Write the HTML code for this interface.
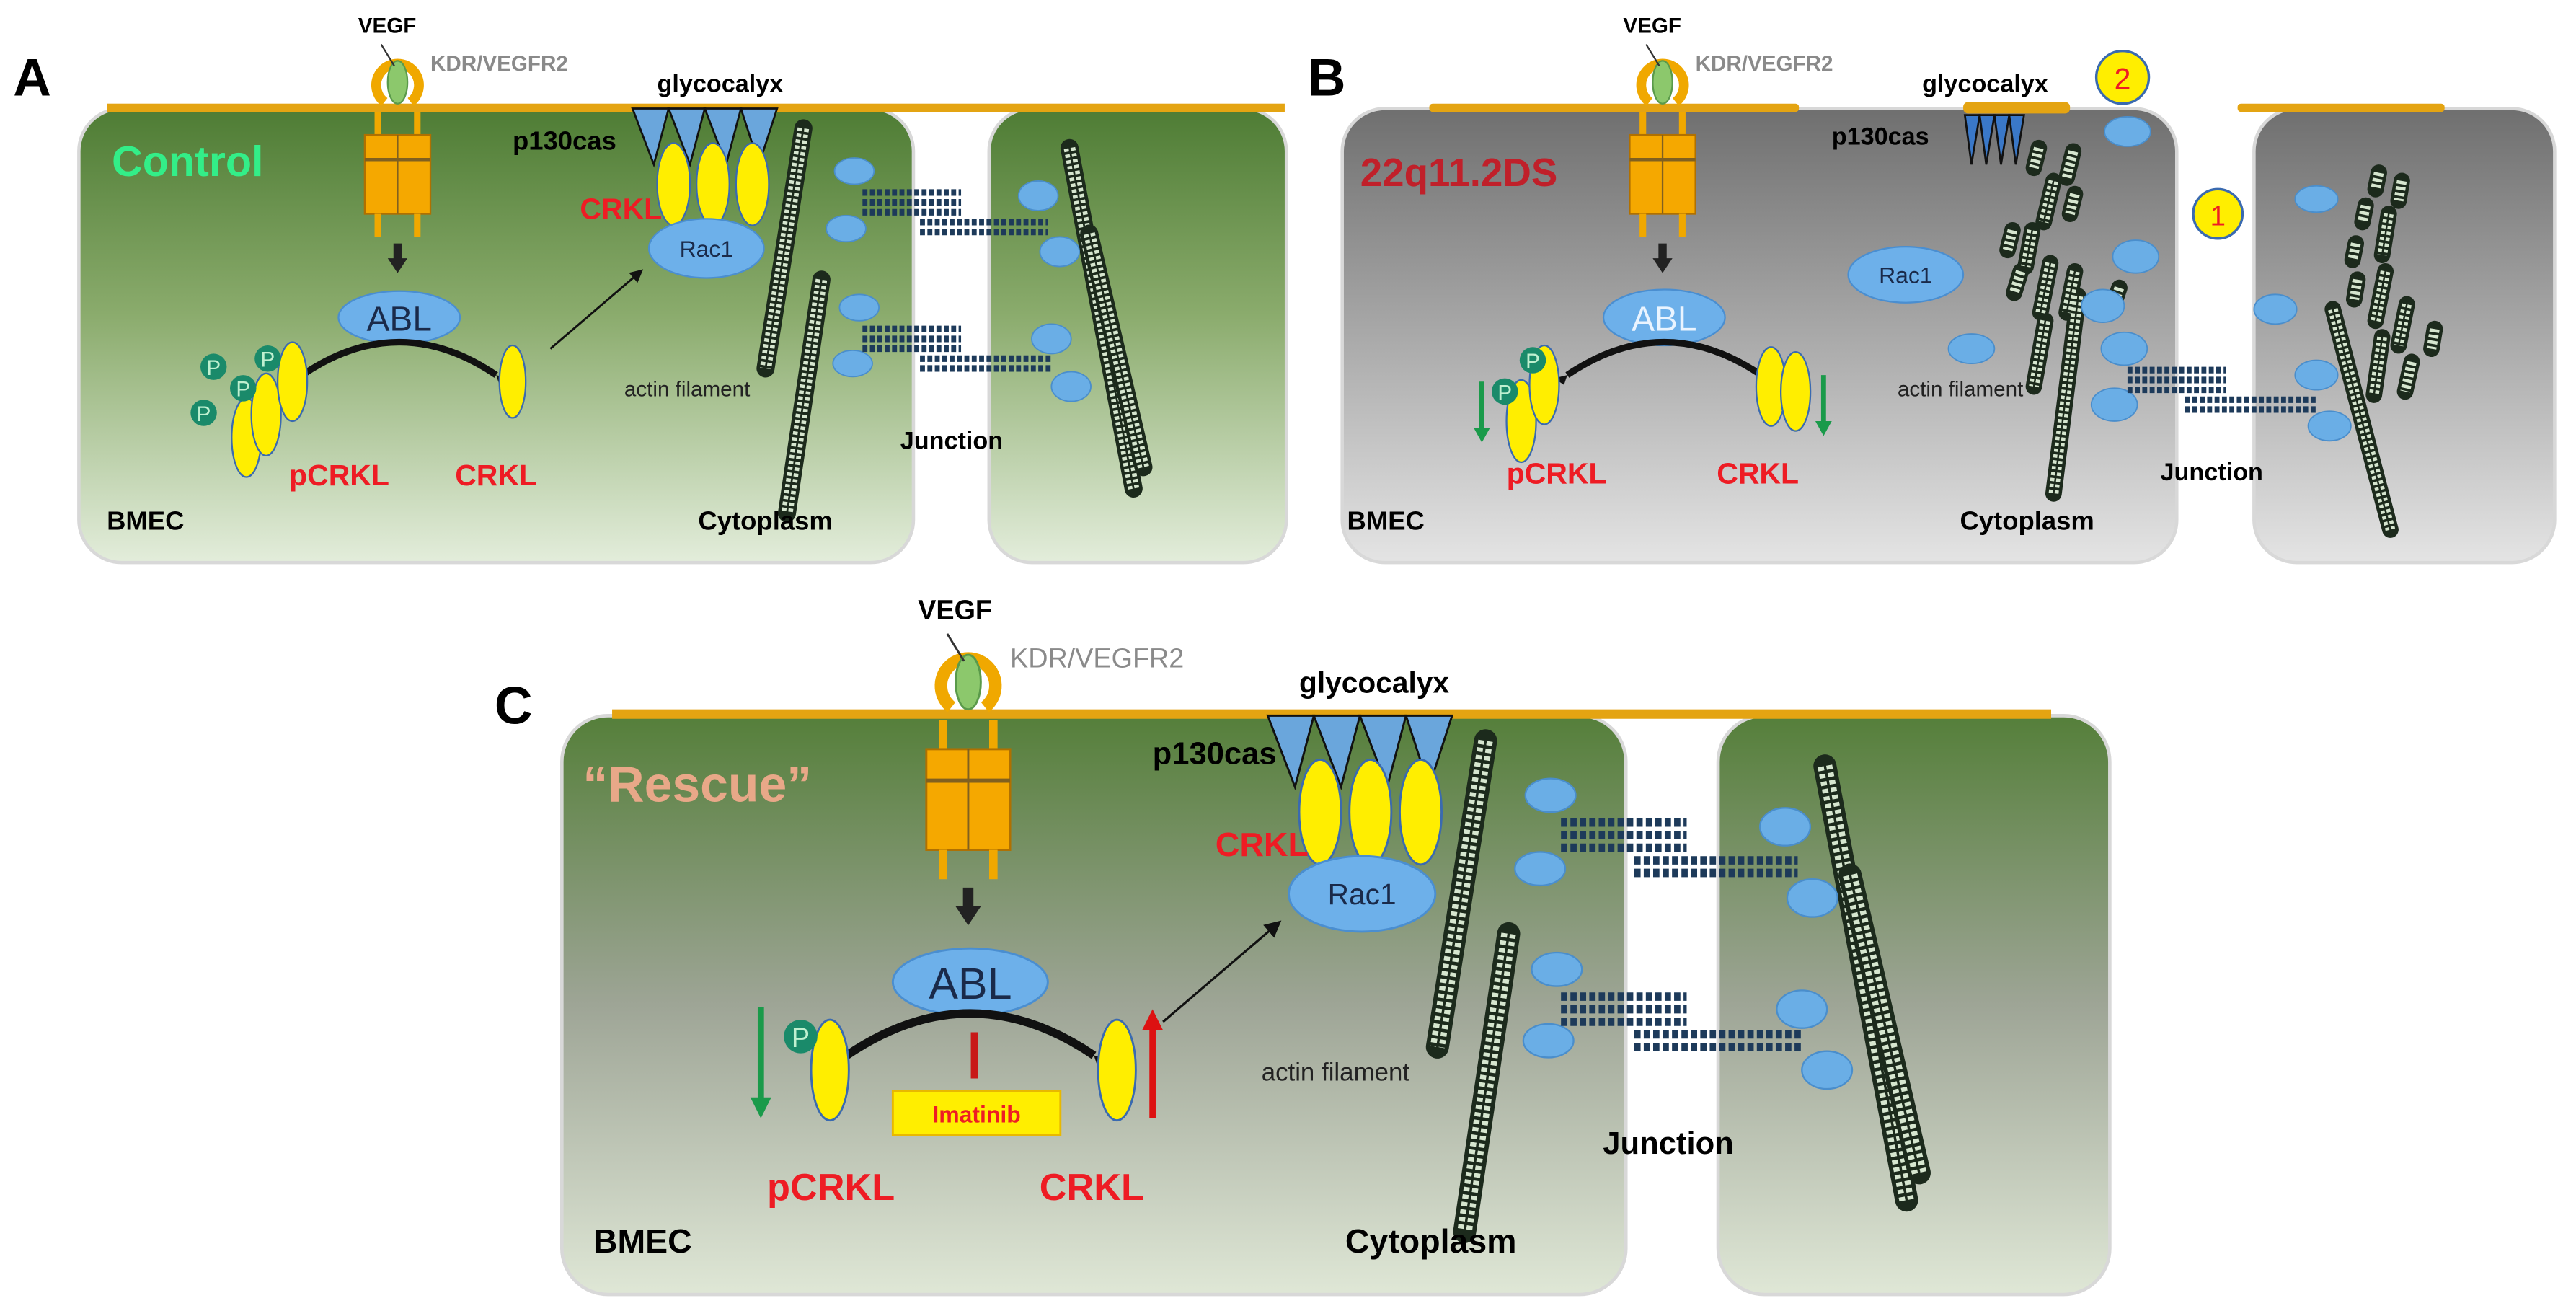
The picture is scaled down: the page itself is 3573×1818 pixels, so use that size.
<!DOCTYPE html>
<html><head><meta charset="utf-8"><style>
html,body{margin:0;padding:0;background:#fff}
svg{display:block}
text{font-family:"Liberation Sans",Arial,sans-serif}
.b{font-weight:bold}
line[stroke="#d6e6cf"], g[stroke="#d6e6cf"] line{stroke-linecap:butt}
line[stroke="#1d3a5a"], g[stroke="#1d3a5a"] line{stroke-linecap:butt}
</style></head><body>
<svg width="3573" height="1818" viewBox="0 0 1568 797" preserveAspectRatio="none" xmlns="http://www.w3.org/2000/svg">
<defs>
<linearGradient id="gG" x1="0" y1="0" x2="0" y2="1"><stop offset="0" stop-color="#4e7c34"/><stop offset="0.45" stop-color="#8aab6c"/><stop offset="1" stop-color="#e3eddb"/></linearGradient>
<linearGradient id="gY" x1="0" y1="0" x2="0" y2="1"><stop offset="0" stop-color="#6f6f6f"/><stop offset="0.5" stop-color="#a9a9a9"/><stop offset="1" stop-color="#e4e4e4"/></linearGradient>
<linearGradient id="gC" x1="0" y1="0" x2="0" y2="1"><stop offset="0" stop-color="#557f3a"/><stop offset="0.5" stop-color="#9ea596"/><stop offset="1" stop-color="#dfe7d6"/></linearGradient>
<marker id="ah" markerWidth="8" markerHeight="8" refX="6" refY="4" orient="auto" markerUnits="userSpaceOnUse"><path d="M0,0 L8,4 L0,8 z" fill="#111"/></marker>
</defs>

<!-- ============ PANEL A ============ -->
<text x="8" y="58" class="b" font-size="32" fill="#000">A</text>
<g>
<rect x="48" y="66" width="508" height="276" rx="26" fill="url(#gG)" stroke="#d8d8d8" stroke-width="2"/>
<rect x="602" y="66" width="181" height="276" rx="26" fill="url(#gG)" stroke="#d8d8d8" stroke-width="2"/>
<rect x="65" y="63" width="717" height="5" fill="#e4a412"/>
<path d="M234,62 A13,13 0 1,1 250,62" fill="none" stroke="#f0a800" stroke-width="6"/>
<ellipse cx="242" cy="50" rx="6" ry="13" fill="#8cc86c" stroke="#5a9a4a"/>
<line x1="232" y1="27" x2="240" y2="40" stroke="#333" stroke-width="1"/>
<rect x="228" y="68" width="4" height="14" fill="#f0a800"/><rect x="252" y="68" width="4" height="14" fill="#f0a800"/>
<rect x="222" y="82" width="40" height="48" fill="#f5a800" stroke="#b07000"/>
<line x1="222" y1="97" x2="262" y2="97" stroke="#806020" stroke-width="2"/><line x1="242" y1="82" x2="242" y2="130" stroke="#806020"/>
<rect x="228" y="130" width="4" height="14" fill="#f0a800"/><rect x="252" y="130" width="4" height="14" fill="#f0a800"/>
<line x1="242" y1="148" x2="242" y2="158" stroke="#222" stroke-width="5"/><path d="M236,157 L248,157 L242,166z" fill="#222"/>
<ellipse cx="243" cy="193" rx="37" ry="16" fill="#6db0ea" stroke="#4a8ed0"/>
<text x="243" y="201" font-size="21" text-anchor="middle" fill="#1a2a4a">ABL</text>
<path d="M184,228 Q243,188 302,228" fill="none" stroke="#111" stroke-width="4"/>
<path d="M184,228 l-8,2 l6,4z" fill="#111"/><path d="M302,228 l8,2 l-6,4z" fill="#111"/>
<ellipse cx="150" cy="266" rx="9" ry="24" fill="#ffee00" stroke="#3a6ab0"/>
<ellipse cx="162" cy="252" rx="9" ry="25" fill="#ffee00" stroke="#3a6ab0"/>
<ellipse cx="178" cy="232" rx="9" ry="24" fill="#ffee00" stroke="#3a6ab0"/>
<circle cx="130" cy="223" r="8" fill="#1a8a6a"/><text x="130" y="228" font-size="13" text-anchor="middle" fill="#bff0d0">P</text>
<circle cx="163" cy="218" r="8" fill="#1a8a6a"/><text x="163" y="223" font-size="13" text-anchor="middle" fill="#bff0d0">P</text>
<circle cx="148" cy="236" r="8" fill="#1a8a6a"/><text x="148" y="241" font-size="13" text-anchor="middle" fill="#bff0d0">P</text>
<circle cx="124" cy="251" r="8" fill="#1a8a6a"/><text x="124" y="256" font-size="13" text-anchor="middle" fill="#bff0d0">P</text>
<ellipse cx="312" cy="232" rx="8" ry="22" fill="#ffee00" stroke="#3a6ab0"/>
<line x1="335" y1="212" x2="390" y2="165" stroke="#111" stroke-width="1.3" marker-end="url(#ah)"/>
<g fill="#6aa6dc" stroke="#111" stroke-width="1.2">
<path d="M385,66 L407,66 L398,100z"/><path d="M407,66 L429,66 L420,100z"/><path d="M429,66 L451,66 L442,100z"/><path d="M451,66 L473,66 L462,100z"/>
</g>
<ellipse cx="410" cy="112" rx="10" ry="25" fill="#ffee00" stroke="#3a6ab0"/>
<ellipse cx="434" cy="112" rx="10" ry="25" fill="#ffee00" stroke="#3a6ab0"/>
<ellipse cx="458" cy="112" rx="10" ry="25" fill="#ffee00" stroke="#3a6ab0"/>
<ellipse cx="430" cy="151" rx="35" ry="18" fill="#6db0ea" stroke="#4a8ed0"/>
<text x="430" y="156" font-size="14" text-anchor="middle" fill="#1a2a4a">Rac1</text>
<g stroke-linecap="round">
<line x1="489" y1="78" x2="466" y2="224" stroke="#1c2a1c" stroke-width="11"/><line x1="489" y1="78" x2="466" y2="224" stroke="#d6e6cf" stroke-width="7" stroke-dasharray="2 1.6"/><line x1="489" y1="78" x2="466" y2="224" stroke="#1c2a1c" stroke-width="1.2"/>
<line x1="500" y1="170" x2="479" y2="312" stroke="#1c2a1c" stroke-width="11"/><line x1="500" y1="170" x2="479" y2="312" stroke="#d6e6cf" stroke-width="7" stroke-dasharray="2 1.6"/><line x1="500" y1="170" x2="479" y2="312" stroke="#1c2a1c" stroke-width="1.2"/>
<line x1="651" y1="90" x2="690" y2="297" stroke="#1c2a1c" stroke-width="11"/><line x1="651" y1="90" x2="690" y2="297" stroke="#d6e6cf" stroke-width="7" stroke-dasharray="2 1.6"/><line x1="651" y1="90" x2="690" y2="297" stroke="#1c2a1c" stroke-width="1.2"/>
<line x1="663" y1="142" x2="696" y2="284" stroke="#1c2a1c" stroke-width="11"/><line x1="663" y1="142" x2="696" y2="284" stroke="#d6e6cf" stroke-width="7" stroke-dasharray="2 1.6"/><line x1="663" y1="142" x2="696" y2="284" stroke="#1c2a1c" stroke-width="1.2"/>
</g>
<g fill="#6aaee6" stroke="#4a8ecc" stroke-width="0.8">
<ellipse cx="520" cy="104" rx="12" ry="8"/><ellipse cx="515" cy="139" rx="12" ry="8"/><ellipse cx="523" cy="187" rx="12" ry="8"/><ellipse cx="519" cy="221" rx="12" ry="8"/>
<ellipse cx="632" cy="119" rx="12" ry="9"/><ellipse cx="645" cy="153" rx="12" ry="9"/><ellipse cx="640" cy="206" rx="12" ry="9"/><ellipse cx="652" cy="235" rx="12" ry="9"/>
</g>
<g stroke="#1d3a5a" stroke-width="4" stroke-dasharray="3 1.5">
<line x1="525" y1="117" x2="585" y2="117"/><line x1="525" y1="123" x2="585" y2="123"/><line x1="525" y1="129" x2="585" y2="129"/>
<line x1="560" y1="135" x2="638" y2="135"/><line x1="560" y1="141" x2="638" y2="141"/>
<line x1="525" y1="200" x2="585" y2="200"/><line x1="525" y1="206" x2="585" y2="206"/><line x1="525" y1="212" x2="585" y2="212"/>
<line x1="560" y1="218" x2="640" y2="218"/><line x1="560" y1="224" x2="640" y2="224"/>
</g>
<text x="218" y="20" class="b" font-size="13">VEGF</text>
<text x="262" y="43" class="b" font-size="13" fill="#8a8a8a">KDR/VEGFR2</text>
<text x="400" y="56" class="b" font-size="15">glycocalyx</text>
<text x="312" y="91" class="b" font-size="16">p130cas</text>
<text x="68" y="107" class="b" font-size="26" fill="#33ee88">Control</text>
<text x="353" y="133" class="b" font-size="18" fill="#ee1c24">CRKL</text>
<text x="380" y="241" font-size="13" fill="#222">actin filament</text>
<text x="548" y="273" class="b" font-size="15">Junction</text>
<text x="65" y="322" class="b" font-size="16">BMEC</text>
<text x="425" y="322" class="b" font-size="16">Cytoplasm</text>
<text x="176" y="295" class="b" font-size="18" fill="#ee1c24">pCRKL</text>
<text x="277" y="295" class="b" font-size="18" fill="#ee1c24">CRKL</text>
</g>

<!-- ============ PANEL B ============ -->
<text x="796" y="58" class="b" font-size="32" fill="#000">B</text>
<g transform="translate(770,0)">
<rect x="47" y="66" width="508" height="276" rx="26" fill="url(#gY)" stroke="#d8d8d8" stroke-width="2"/>
<rect x="602" y="66" width="183" height="276" rx="26" fill="url(#gY)" stroke="#d8d8d8" stroke-width="2"/>
<rect x="100" y="63" width="225" height="5" rx="2" fill="#e4a412"/>
<rect x="425" y="62" width="65" height="7" rx="3" fill="#e4a412"/>
<rect x="592" y="63" width="126" height="5" rx="2" fill="#e4a412"/>
<path d="M234,62 A13,13 0 1,1 250,62" fill="none" stroke="#f0a800" stroke-width="6"/>
<ellipse cx="242" cy="50" rx="6" ry="13" fill="#8cc86c" stroke="#5a9a4a"/>
<line x1="232" y1="27" x2="240" y2="40" stroke="#333" stroke-width="1"/>
<rect x="228" y="68" width="4" height="14" fill="#f0a800"/><rect x="252" y="68" width="4" height="14" fill="#f0a800"/>
<rect x="222" y="82" width="40" height="48" fill="#f5a800" stroke="#b07000"/>
<line x1="222" y1="97" x2="262" y2="97" stroke="#806020" stroke-width="2"/><line x1="242" y1="82" x2="242" y2="130" stroke="#806020"/>
<rect x="228" y="130" width="4" height="14" fill="#f0a800"/><rect x="252" y="130" width="4" height="14" fill="#f0a800"/>
<line x1="242" y1="148" x2="242" y2="158" stroke="#222" stroke-width="5"/><path d="M236,157 L248,157 L242,166z" fill="#222"/>
<ellipse cx="243" cy="193" rx="37" ry="17" fill="#6db0ea" stroke="#4a8ed0"/>
<text x="243" y="201" font-size="21" text-anchor="middle" fill="#eaf4ff">ABL</text>
<path d="M184,228 Q243,188 302,228" fill="none" stroke="#111" stroke-width="4"/>
<path d="M184,228 l-8,2 l6,4z" fill="#111"/><path d="M302,228 l8,2 l-6,4z" fill="#111"/>
<ellipse cx="156" cy="256" rx="9" ry="25" fill="#ffee00" stroke="#3a6ab0"/>
<ellipse cx="170" cy="234" rx="9" ry="24" fill="#ffee00" stroke="#3a6ab0"/>
<circle cx="163" cy="219" r="8" fill="#1a8a6a"/><text x="163" y="224" font-size="13" text-anchor="middle" fill="#bff0d0">P</text>
<circle cx="146" cy="238" r="8" fill="#1a8a6a"/><text x="146" y="243" font-size="13" text-anchor="middle" fill="#bff0d0">P</text>
<line x1="132" y1="232" x2="132" y2="262" stroke="#1a9a4a" stroke-width="3"/><path d="M127,260 L137,260 L132,269z" fill="#1a9a4a"/>
<ellipse cx="308" cy="235" rx="9" ry="24" fill="#ffee00" stroke="#3a6ab0"/>
<ellipse cx="323" cy="238" rx="9" ry="24" fill="#ffee00" stroke="#3a6ab0"/>
<line x1="340" y1="228" x2="340" y2="258" stroke="#1a9a4a" stroke-width="3"/><path d="M335,256 L345,256 L340,265z" fill="#1a9a4a"/>
<g fill="#3a78c8" stroke="#111" stroke-width="1.2">
<path d="M426,70 L435,70 L430,100z"/><path d="M435,70 L444,70 L439,100z"/><path d="M444,70 L453,70 L448,100z"/><path d="M453,70 L462,70 L457,100z"/>
</g>
<ellipse cx="390" cy="167" rx="35" ry="17" fill="#6db0ea" stroke="#4a8ed0"/>
<text x="390" y="172" font-size="14" text-anchor="middle" fill="#1a2a4a">Rac1</text>
<circle cx="522" cy="47" r="16" fill="#ffee00" stroke="#3a6ab0" stroke-width="1.5"/><text x="522" y="54" font-size="18" text-anchor="middle" fill="#ee1c24">2</text>
<circle cx="580" cy="130" r="15" fill="#ffee00" stroke="#3a6ab0" stroke-width="1.5"/><text x="580" y="137" font-size="17" text-anchor="middle" fill="#ee1c24">1</text>
<g stroke-linecap="round">
<g stroke="#1c2a1c" stroke-width="10">
<line x1="471" y1="90" x2="468" y2="102"/><line x1="492" y1="92" x2="488" y2="108"/><line x1="480" y1="110" x2="474" y2="135"/><line x1="493" y1="118" x2="490" y2="130"/>
<line x1="455" y1="140" x2="452" y2="152"/><line x1="467" y1="140" x2="463" y2="162"/><line x1="460" y1="165" x2="456" y2="178"/><line x1="478" y1="160" x2="472" y2="190"/><line x1="493" y1="165" x2="488" y2="190"/>
<line x1="475" y1="195" x2="468" y2="235"/><line x1="495" y1="180" x2="480" y2="300"/><line x1="520" y1="175" x2="515" y2="190"/>
<line x1="678" y1="105" x2="676" y2="115"/><line x1="692" y1="110" x2="690" y2="122"/><line x1="684" y1="130" x2="680" y2="155"/><line x1="670" y1="125" x2="668" y2="135"/>
<line x1="664" y1="148" x2="662" y2="158"/><line x1="682" y1="165" x2="676" y2="195"/><line x1="665" y1="170" x2="663" y2="182"/><line x1="695" y1="185" x2="690" y2="210"/>
<line x1="680" y1="205" x2="675" y2="240"/><line x1="698" y1="220" x2="694" y2="238"/><line x1="712" y1="200" x2="710" y2="212"/>
<line x1="650" y1="188" x2="685" y2="322"/>
</g>
<g stroke="#d6e6cf" stroke-width="6" stroke-dasharray="2 1.6">
<line x1="471" y1="90" x2="468" y2="102"/><line x1="492" y1="92" x2="488" y2="108"/><line x1="480" y1="110" x2="474" y2="135"/><line x1="493" y1="118" x2="490" y2="130"/>
<line x1="455" y1="140" x2="452" y2="152"/><line x1="467" y1="140" x2="463" y2="162"/><line x1="460" y1="165" x2="456" y2="178"/><line x1="478" y1="160" x2="472" y2="190"/><line x1="493" y1="165" x2="488" y2="190"/>
<line x1="475" y1="195" x2="468" y2="235"/><line x1="495" y1="180" x2="480" y2="300"/><line x1="520" y1="175" x2="515" y2="190"/>
<line x1="678" y1="105" x2="676" y2="115"/><line x1="692" y1="110" x2="690" y2="122"/><line x1="684" y1="130" x2="680" y2="155"/><line x1="670" y1="125" x2="668" y2="135"/>
<line x1="664" y1="148" x2="662" y2="158"/><line x1="682" y1="165" x2="676" y2="195"/><line x1="665" y1="170" x2="663" y2="182"/><line x1="695" y1="185" x2="690" y2="210"/>
<line x1="680" y1="205" x2="675" y2="240"/><line x1="698" y1="220" x2="694" y2="238"/><line x1="712" y1="200" x2="710" y2="212"/>
<line x1="650" y1="188" x2="685" y2="322"/>
</g>
<g stroke="#1c2a1c" stroke-width="1.1">
<line x1="480" y1="110" x2="474" y2="135"/><line x1="467" y1="140" x2="463" y2="162"/><line x1="478" y1="160" x2="472" y2="190"/><line x1="493" y1="165" x2="488" y2="190"/>
<line x1="475" y1="195" x2="468" y2="235"/><line x1="495" y1="180" x2="480" y2="300"/><line x1="684" y1="130" x2="680" y2="155"/><line x1="682" y1="165" x2="676" y2="195"/>
<line x1="695" y1="185" x2="690" y2="210"/><line x1="680" y1="205" x2="675" y2="240"/><line x1="650" y1="188" x2="685" y2="322"/>
</g>
</g>
<g fill="#6aaee6" stroke="#4a8ecc" stroke-width="0.8">
<ellipse cx="525" cy="80" rx="14" ry="9"/><ellipse cx="530" cy="156" rx="14" ry="10"/><ellipse cx="510" cy="186" rx="13" ry="10"/><ellipse cx="430" cy="212" rx="14" ry="9"/>
<ellipse cx="523" cy="212" rx="14" ry="10"/><ellipse cx="517" cy="246" rx="14" ry="10"/>
<ellipse cx="640" cy="121" rx="13" ry="8"/><ellipse cx="615" cy="188" rx="13" ry="9"/><ellipse cx="640" cy="228" rx="13" ry="9"/><ellipse cx="648" cy="259" rx="13" ry="9"/>
</g>
<g stroke="#1d3a5a" stroke-width="4" stroke-dasharray="3 1.5">
<line x1="525" y1="225" x2="585" y2="225"/><line x1="525" y1="231" x2="585" y2="231"/><line x1="525" y1="237" x2="585" y2="237"/>
<line x1="560" y1="243" x2="640" y2="243"/><line x1="560" y1="249" x2="640" y2="249"/>
</g>
<text x="218" y="20" class="b" font-size="13">VEGF</text>
<text x="262" y="43" class="b" font-size="13" fill="#8a8a8a">KDR/VEGFR2</text>
<text x="400" y="56" class="b" font-size="15">glycocalyx</text>
<text x="345" y="88" class="b" font-size="15">p130cas</text>
<text x="58" y="113" class="b" font-size="24" fill="#c0202a">22q11.2DS</text>
<text x="385" y="241" font-size="13" fill="#222">actin filament</text>
<text x="545" y="292" class="b" font-size="15">Junction</text>
<text x="50" y="322" class="b" font-size="16">BMEC</text>
<text x="423" y="322" class="b" font-size="16">Cytoplasm</text>
<text x="147" y="294" class="b" font-size="18" fill="#ee1c24">pCRKL</text>
<text x="275" y="294" class="b" font-size="18" fill="#ee1c24">CRKL</text>
</g>

<!-- ============ PANEL C ============ -->
<text x="301" y="440" class="b" font-size="32" fill="#000">C</text>
<g transform="translate(280.8,350.9) scale(1.275)">
<rect x="48" y="66" width="508" height="276" rx="22" fill="url(#gC)" stroke="#d8d8d8" stroke-width="1.6"/>
<rect x="600" y="66" width="187" height="276" rx="22" fill="url(#gC)" stroke="#d8d8d8" stroke-width="1.6"/>
<rect x="72" y="63" width="687" height="4.5" fill="#e4a412"/>
<path d="M234,62 A13,13 0 1,1 250,62" fill="none" stroke="#f0a800" stroke-width="6"/>
<ellipse cx="242" cy="50" rx="6" ry="13" fill="#8cc86c" stroke="#5a9a4a"/>
<line x1="232" y1="27" x2="240" y2="40" stroke="#333" stroke-width="1"/>
<rect x="228" y="68" width="4" height="14" fill="#f0a800"/><rect x="252" y="68" width="4" height="14" fill="#f0a800"/>
<rect x="222" y="82" width="40" height="48" fill="#f5a800" stroke="#b07000"/>
<line x1="222" y1="97" x2="262" y2="97" stroke="#806020" stroke-width="2"/><line x1="242" y1="82" x2="242" y2="130" stroke="#806020"/>
<rect x="228" y="130" width="4" height="14" fill="#f0a800"/><rect x="252" y="130" width="4" height="14" fill="#f0a800"/>
<line x1="242" y1="148" x2="242" y2="158" stroke="#222" stroke-width="5"/><path d="M236,157 L248,157 L242,166z" fill="#222"/>
<ellipse cx="243" cy="193" rx="37" ry="16" fill="#6db0ea" stroke="#4a8ed0"/>
<text x="243" y="201" font-size="21" text-anchor="middle" fill="#1a2a4a">ABL</text>
<path d="M184,228 Q243,188 302,228" fill="none" stroke="#111" stroke-width="4"/>
<path d="M184,228 l-8,2 l6,4z" fill="#111"/><path d="M302,228 l8,2 l-6,4z" fill="#111"/>
<ellipse cx="176" cy="235" rx="9" ry="24" fill="#ffee00" stroke="#3a6ab0"/>
<circle cx="162" cy="219" r="8" fill="#1a8a6a"/><text x="162" y="224" font-size="13" text-anchor="middle" fill="#bff0d0">P</text>
<line x1="143" y1="205" x2="143" y2="250" stroke="#1a9a4a" stroke-width="3"/><path d="M138,248 L148,248 L143,258z" fill="#1a9a4a"/>
<ellipse cx="313" cy="235" rx="9" ry="24" fill="#ffee00" stroke="#3a6ab0"/>
<line x1="330" y1="214" x2="330" y2="258" stroke="#dd1111" stroke-width="3"/><path d="M325,216 L335,216 L330,206z" fill="#dd1111"/>
<line x1="245" y1="217" x2="245" y2="239" stroke="#c81818" stroke-width="3.5"/>
<rect x="206" y="245" width="80" height="21" fill="#ffee00" stroke="#e8b800"/>
<text x="246" y="260" class="b" font-size="11" text-anchor="middle" fill="#ee1c24">Imatinib</text>
<line x1="335" y1="212" x2="390" y2="165" stroke="#111" stroke-width="1.1" marker-end="url(#ah)"/>
<g fill="#6aa6dc" stroke="#111" stroke-width="1">
<path d="M385,66 L407,66 L398,100z"/><path d="M407,66 L429,66 L420,100z"/><path d="M429,66 L451,66 L442,100z"/><path d="M451,66 L473,66 L462,100z"/>
</g>
<ellipse cx="410" cy="112" rx="10" ry="25" fill="#ffee00" stroke="#3a6ab0"/>
<ellipse cx="434" cy="112" rx="10" ry="25" fill="#ffee00" stroke="#3a6ab0"/>
<ellipse cx="458" cy="112" rx="10" ry="25" fill="#ffee00" stroke="#3a6ab0"/>
<ellipse cx="430" cy="151" rx="35" ry="18" fill="#6db0ea" stroke="#4a8ed0"/>
<text x="430" y="156" font-size="14" text-anchor="middle" fill="#1a2a4a">Rac1</text>
<g stroke-linecap="round">
<line x1="489" y1="78" x2="466" y2="224" stroke="#1c2a1c" stroke-width="11"/><line x1="489" y1="78" x2="466" y2="224" stroke="#d6e6cf" stroke-width="7" stroke-dasharray="2 1.6"/><line x1="489" y1="78" x2="466" y2="224" stroke="#1c2a1c" stroke-width="1.2"/>
<line x1="500" y1="170" x2="479" y2="312" stroke="#1c2a1c" stroke-width="11"/><line x1="500" y1="170" x2="479" y2="312" stroke="#d6e6cf" stroke-width="7" stroke-dasharray="2 1.6"/><line x1="500" y1="170" x2="479" y2="312" stroke="#1c2a1c" stroke-width="1.2"/>
<line x1="651" y1="90" x2="690" y2="297" stroke="#1c2a1c" stroke-width="11"/><line x1="651" y1="90" x2="690" y2="297" stroke="#d6e6cf" stroke-width="7" stroke-dasharray="2 1.6"/><line x1="651" y1="90" x2="690" y2="297" stroke="#1c2a1c" stroke-width="1.2"/>
<line x1="663" y1="142" x2="696" y2="284" stroke="#1c2a1c" stroke-width="11"/><line x1="663" y1="142" x2="696" y2="284" stroke="#d6e6cf" stroke-width="7" stroke-dasharray="2 1.6"/><line x1="663" y1="142" x2="696" y2="284" stroke="#1c2a1c" stroke-width="1.2"/>
</g>
<g fill="#6aaee6" stroke="#4a8ecc" stroke-width="0.8">
<ellipse cx="520" cy="104" rx="12" ry="8"/><ellipse cx="515" cy="139" rx="12" ry="8"/><ellipse cx="523" cy="187" rx="12" ry="8"/><ellipse cx="519" cy="221" rx="12" ry="8"/>
<ellipse cx="632" cy="119" rx="12" ry="9"/><ellipse cx="645" cy="153" rx="12" ry="9"/><ellipse cx="640" cy="206" rx="12" ry="9"/><ellipse cx="652" cy="235" rx="12" ry="9"/>
</g>
<g stroke="#1d3a5a" stroke-width="4" stroke-dasharray="3 1.5">
<line x1="525" y1="117" x2="585" y2="117"/><line x1="525" y1="123" x2="585" y2="123"/><line x1="525" y1="129" x2="585" y2="129"/>
<line x1="560" y1="135" x2="638" y2="135"/><line x1="560" y1="141" x2="638" y2="141"/>
<line x1="525" y1="200" x2="585" y2="200"/><line x1="525" y1="206" x2="585" y2="206"/><line x1="525" y1="212" x2="585" y2="212"/>
<line x1="560" y1="218" x2="640" y2="218"/><line x1="560" y1="224" x2="640" y2="224"/>
</g>
<text x="218" y="20" class="b" font-size="13">VEGF</text>
<text x="262" y="43" font-size="13" fill="#8a8a8a">KDR/VEGFR2</text>
<text x="400" y="55" class="b" font-size="14">glycocalyx</text>
<text x="330" y="89" class="b" font-size="15">p130cas</text>
<text x="58" y="107" class="b" font-size="24" fill="#e8a888">“Rescue”</text>
<text x="360" y="133" class="b" font-size="16" fill="#ee1c24">CRKL</text>
<text x="382" y="240" font-size="12" fill="#222">actin filament</text>
<text x="545" y="275" class="b" font-size="15">Junction</text>
<text x="63" y="322" class="b" font-size="16">BMEC</text>
<text x="422" y="322" class="b" font-size="16">Cytoplasm</text>
<text x="146" y="297" class="b" font-size="18" fill="#ee1c24">pCRKL</text>
<text x="276" y="297" class="b" font-size="18" fill="#ee1c24">CRKL</text>
</g>
</svg>
</body></html>
